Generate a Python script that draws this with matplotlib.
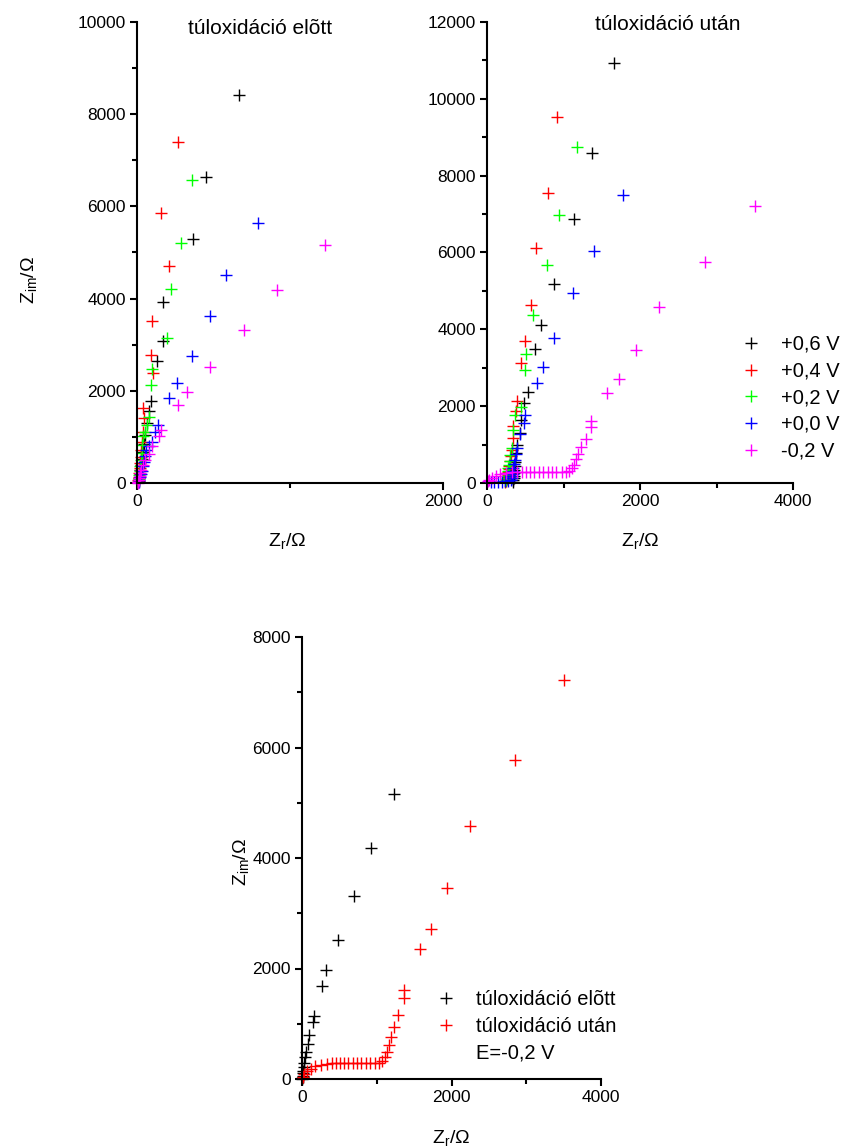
import matplotlib
matplotlib.use("Agg")
import matplotlib.pyplot as plt
from matplotlib.ticker import MultipleLocator

plt.rcParams['font.family'] = ['Liberation Sans', 'DejaVu Sans']
plt.rcParams['mathtext.fontset'] = 'custom'
plt.rcParams['mathtext.rm'] = 'Liberation Sans'

# ---------------- data ----------------
# before overoxidation (túloxidáció előtt)
b06_x = [664, 448, 368, 169, 171, 128, 93, 80, 65, 55, 45, 38, 32, 27, 22, 18, 14, 10]
b06_y = [8420, 6637, 5283, 3928, 3087, 2638, 1768, 1572, 1300, 1050, 850, 680, 530, 400, 290, 190, 110, 40]
b04_x = [271, 160, 210, 100, 93, 102, 41, 45, 37, 33, 28, 24, 20, 17, 14, 11, 8, 6]
b04_y = [7398, 5848, 4717, 3522, 2783, 2391, 1623, 1420, 1100, 900, 720, 560, 430, 320, 220, 140, 70, 20]
b02_x = [359, 290, 221, 199, 100, 93, 78, 67, 50, 41, 35, 30, 25, 21, 17, 13, 10, 7]
b02_y = [6565, 5203, 4210, 3145, 2471, 2116, 1442, 1260, 1100, 1010, 820, 650, 500, 370, 260, 170, 90, 30]
b00_x = [788, 582, 476, 357, 260, 206, 139, 117, 95, 80, 62, 52, 44, 37, 30, 25, 20, 15, 10]
b00_y = [5630, 4515, 3616, 2746, 2159, 1848, 1261, 1116, 898, 800, 716, 580, 460, 360, 270, 190, 120, 60, 20]
bm02_x = [1228, 918, 700, 480, 327, 269, 157, 146, 98, 76, 54, 41, 28, 22, 17, 13, 10, 8, 6, 5]
bm02_y = [5165, 4184, 3315, 2508, 1970, 1684, 1146, 1025, 797, 634, 495, 392, 283, 210, 150, 100, 60, 30, 15, 5]

# after overoxidation (túloxidáció után)
a06_x = [1664, 1368, 1137, 876, 706, 632, 531, 488, 444, 431, 396, 379, 366, 360, 355, 352, 350, 348, 346, 345]
a06_y = [10930, 8580, 6875, 5187, 4108, 3499, 2358, 2080, 1627, 1296, 992, 775, 557, 430, 330, 250, 180, 120, 70, 30]
a04_x = [915, 793, 636, 571, 501, 448, 396, 379, 344, 344, 322, 310, 300, 292, 286, 280, 275, 270, 262, 250, 230]
a04_y = [9515, 7556, 6110, 4633, 3700, 3133, 2141, 1862, 1488, 1166, 862, 700, 560, 450, 360, 280, 210, 150, 100, 60, 30]
a02_x = [1172, 945, 784, 605, 510, 501, 444, 366, 344, 322, 305, 295, 287, 280, 274, 268, 262, 255, 245, 230]
a02_y = [8738, 6989, 5666, 4386, 3368, 2950, 1976, 1775, 1375, 905, 720, 580, 470, 380, 300, 230, 170, 120, 80, 40]
a00_x = [1782, 1403, 1128, 880, 736, 649, 497, 479, 436, 392, 375, 362, 352, 345, 340, 336, 332, 325, 310, 280, 240, 190, 140, 90, 50]
a00_y = [7493, 6031, 4952, 3778, 3021, 2603, 1775, 1567, 1288, 914, 750, 610, 490, 390, 310, 240, 180, 130, 90, 60, 45, 35, 30, 25, 15]
am02_x = [3500, 2845, 2245, 1945, 1728, 1575, 1360, 1360, 1290, 1230, 1195, 1160, 1140, 1110, 1075, 1035,
          975, 908, 855, 792, 730, 676, 618, 561, 507, 454, 396, 329, 249, 174, 116, 62, 27, 9]
am02_y = [7220, 5765, 4580, 3450, 2715, 2345, 1610, 1460, 1150, 940, 760, 620, 480, 390, 320, 295,
          290, 290, 290, 290, 290, 290, 290, 290, 290, 290, 285, 275, 255, 230, 190, 140, 90, 40]

legend_labels = ['+0,6 V', '+0,4 V', '+0,2 V', '+0,0 V', '-0,2 V']
series_colors = ['black', 'red', '#00FF00', 'blue', '#FF00FF']

# ---------------- figure ----------------
W, H = 851, 1148
fig = plt.figure(figsize=(W / 100, H / 100), dpi=100)


def px_axes(x0, y0, x1, y1):
    return fig.add_axes([x0 / W, 1 - y1 / H, (x1 - x0) / W, (y1 - y0) / H])


def style(ax, xmax, ymax, xmaj, ymaj):
    ax.set_xlim(0, xmax)
    ax.set_ylim(0, ymax)
    for s in ['top', 'right']:
        ax.spines[s].set_visible(False)
    for s in ['left', 'bottom']:
        ax.spines[s].set_linewidth(1.5)
    ax.xaxis.set_major_locator(MultipleLocator(xmaj))
    ax.xaxis.set_minor_locator(MultipleLocator(xmaj / 2))
    ax.yaxis.set_major_locator(MultipleLocator(ymaj))
    ax.yaxis.set_minor_locator(MultipleLocator(ymaj / 2))
    ax.tick_params(which='major', direction='out', length=5, width=1.5, labelsize=12.5, pad=3)
    ax.tick_params(which='minor', direction='out', length=3.5, width=1.5)
    ax.set_xlabel(r'$\mathregular{Z_{r}}$/Ω', fontsize=14, labelpad=12)
    ax.set_ylabel(r'$\mathregular{Z_{im}}$/Ω', fontsize=14, labelpad=12)


mk = dict(marker='+', linestyle='none', markersize=8, markeredgewidth=1.0, clip_on=False)
leg_kw = dict(bbox_transform=fig.transFigure, frameon=False, fontsize=14.5, handlelength=1.0,
              handletextpad=1.0, labelspacing=0.38, borderpad=0, borderaxespad=0, loc='upper left')

# top-left: before
ax1 = px_axes(137, 22, 443, 483)
style(ax1, 2000, 10000, 2000, 2000)
ax1.yaxis.set_minor_locator(MultipleLocator(1000))
for xs, ys, c in zip([b06_x, b04_x, b02_x, b00_x, bm02_x], [b06_y, b04_y, b02_y, b00_y, bm02_y], series_colors):
    ax1.plot(xs, ys, color=c, **mk)
ax1.xaxis.set_label_coords(0.49, -0.105)
ax1.yaxis.set_label_coords(-0.32, 0.44)

# top-right: after
ax2 = px_axes(487, 22, 793, 483)
style(ax2, 4000, 12000, 2000, 2000)
ax2.yaxis.set_minor_locator(MultipleLocator(1000))
handles = []
for xs, ys, c, lab in zip([a06_x, a04_x, a02_x, a00_x, am02_x], [a06_y, a04_y, a02_y, a00_y, am02_y],
                          series_colors, legend_labels):
    h, = ax2.plot(xs, ys, color=c, label=lab, **mk)
    handles.append(h)
ax2.set_ylabel('')
ax2.xaxis.set_label_coords(0.5, -0.105)
ax2.legend(handles=handles, bbox_to_anchor=(741 / W, 1 - 335 / H), **leg_kw)

# bottom: E=-0.2 V comparison
ax3 = px_axes(302, 637, 601, 1079)
style(ax3, 4000, 8000, 2000, 2000)
ax3.yaxis.set_minor_locator(MultipleLocator(1000))
h1, = ax3.plot(bm02_x, bm02_y, color='black', label='túloxidáció elõtt', **mk)
h2, = ax3.plot(am02_x, am02_y, color='red', label='túloxidáció után', **mk)
ax3.xaxis.set_label_coords(0.5, -0.11)
ax3.yaxis.set_label_coords(-0.17, 0.49)
ax3.legend(handles=[h1, h2], bbox_to_anchor=(436 / W, 1 - 990 / H), **leg_kw)
fig.text(476 / W, 1 - 1053 / H, 'E=-0,2 V', fontsize=14.5, ha='left', va='center')

# panel titles
fig.text(260 / W, 1 - 28 / H, 'túloxidáció elõtt', fontsize=15, ha='center', va='center')
fig.text(668 / W, 1 - 24 / H, 'túloxidáció után', fontsize=15, ha='center', va='center')

fig.savefig('out.png', dpi=100)
